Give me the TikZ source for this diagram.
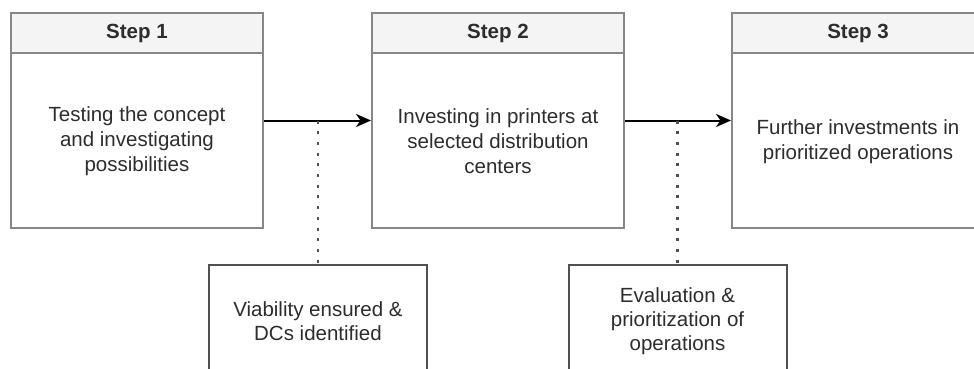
\documentclass[tikz,border=0pt]{standalone}
\usepackage{fontspec}
\setmainfont{Liberation Sans}
\usetikzlibrary{arrows.meta,calc}
\definecolor{laneline}{RGB}{135,135,135}
\definecolor{hdrfill}{RGB}{244,244,244}
\definecolor{boxline}{RGB}{80,80,80}
\definecolor{txt}{RGB}{45,45,45}
\tikzset{
  lane/.style={draw=laneline, line width=2pt, fill=white, minimum width=252pt, minimum height=215pt, inner sep=0pt},
  hdr/.style={draw=laneline, line width=2pt, fill=hdrfill, minimum width=252pt, minimum height=40pt, inner sep=0pt, anchor=north, text=txt, font=\fontsize{20.5}{25}\selectfont\bfseries},
  body/.style={align=center, text=txt, font=\fontsize{20.5}{25}\selectfont, inner sep=0pt},
  note/.style={draw=boxline, line width=2pt, fill=white, minimum width=218pt, minimum height=112pt, align=center, text=txt, font=\fontsize{20.5}{24}\selectfont, inner sep=0pt},
  flow/.style={line width=2pt, draw=black, -{Stealth[length=15pt,width=13pt,inset=4.5pt]}},
  link/.style={line width=2.2pt, draw=boxline, dash pattern=on 3pt off 7.7pt}
}
\begin{document}
\begin{tikzpicture}[x=1pt,y=-1pt]
  \useasboundingbox (0,0) rectangle (974,369);

  % the three step lanes
  \node[lane] (s1) at (137,120.5) {};
  \node[lane] (s2) at (498,120.5) {};
  \node[lane] (s3) at (858,120.5) {};

  \node[hdr] (h1) at (s1.north) {Step 1};
  \node[hdr] (h2) at (s2.north) {Step 2};
  \node[hdr] (h3) at (s3.north) {Step 3};

  \node[body] (t1) at ($(h1.south)!0.5!(s1.south)$) {Testing the concept\\and investigating\\possibilities};
  \node[body] (t2) at ($(h2.south)!0.5!(s2.south)$) {Investing in printers at\\selected distribution\\centers};
  \node[body] (t3) at ($(h3.south)!0.5!(s3.south)$) {Further investments in\\prioritized operations};

  % milestone boxes below the flow
  \node[note] (b1) at (318,321) {Viability ensured \&\\DCs identified};
  \node[note] (b2) at (677.5,321) {Evaluation \&\\prioritization of\\operations};

  % flow between the steps
  \draw[flow] (s1.east) -- (s2.west);
  \draw[flow] (s2.east) -- (s3.west);

  % dotted links from the flow to the milestones
  \coordinate (m1) at (b1.north |- s1.east);
  \coordinate (m2) at (b2.north |- s2.east);
  \draw[link] (m1) -- (b1.north);
  \draw[link] (m2) -- (b2.north);
\end{tikzpicture}
\end{document}
